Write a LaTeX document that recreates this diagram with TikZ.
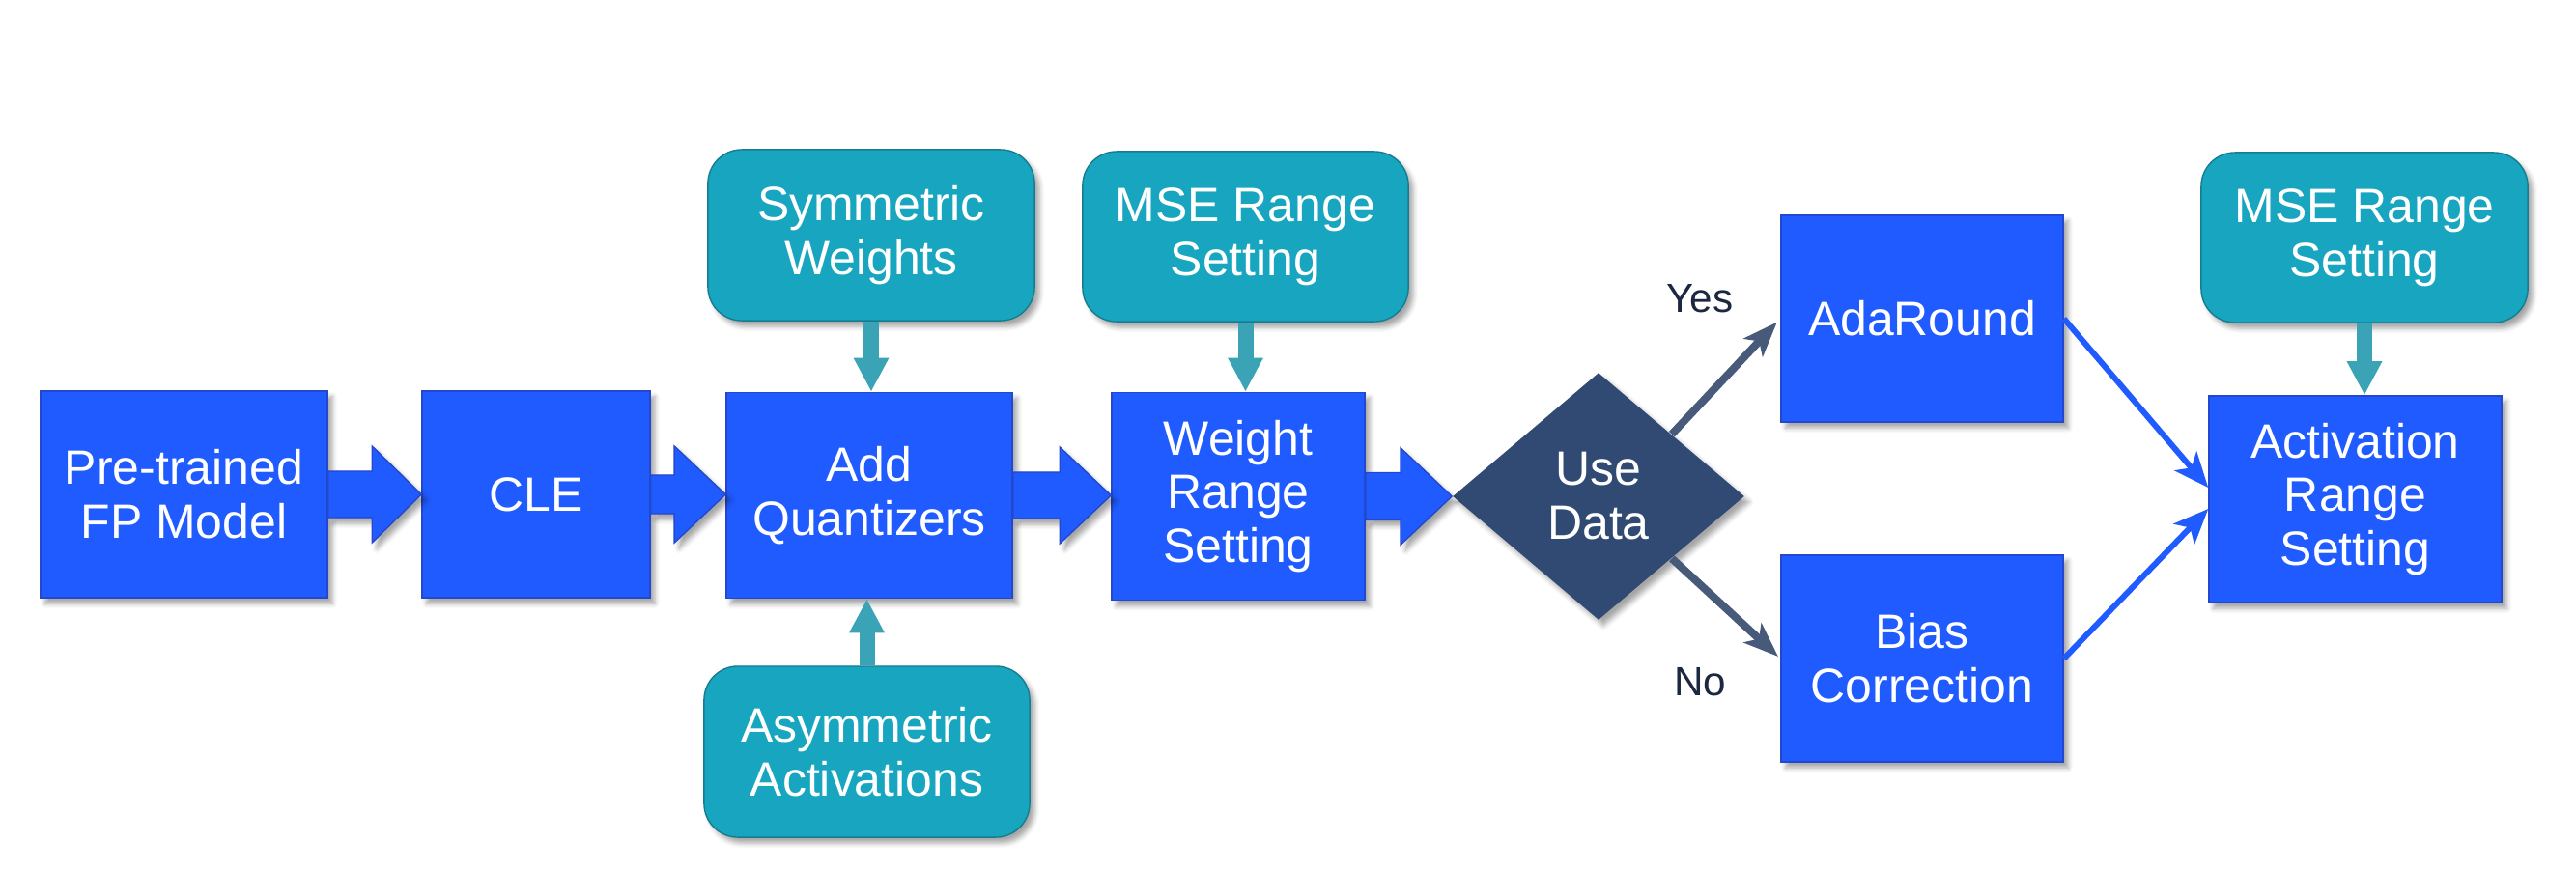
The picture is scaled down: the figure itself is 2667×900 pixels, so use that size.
\documentclass[tikz,border=0pt]{standalone}
\usepackage{fontspec}
\setmainfont{Liberation Sans}
\usetikzlibrary{shapes.geometric,arrows.meta,calc,shadows.blur}
\definecolor{boxblue}{RGB}{31,91,255}
\definecolor{boxedge}{RGB}{36,72,205}
\definecolor{tealbox}{RGB}{23,165,191}
\definecolor{tealedge}{RGB}{22,125,145}
\definecolor{tealarrow}{RGB}{58,164,182}
\definecolor{slate}{RGB}{48,74,115}
\definecolor{slatearrow}{RGB}{72,90,122}
\definecolor{labelnavy}{RGB}{28,40,64}
\tikzset{
  shd/.style={blur shadow={shadow xshift=0.05cm, shadow yshift=-0.06cm, shadow blur radius=0.05cm, shadow opacity=35}},
  mainfont/.style={font=\fontsize{14.2}{15.9}\selectfont},
  proc/.style={rectangle, draw=boxedge, line width=0.4pt, fill=boxblue, text=white, align=center, inner sep=0pt, mainfont, shd},
  optbox/.style={rectangle, rounded corners=0.35cm, draw=tealedge, line width=0.4pt, fill=tealbox, text=white, align=center, inner sep=0pt, mainfont, shd},
  decision/.style={diamond, fill=slate, text=white, align=center, inner sep=0pt, mainfont, shd},
  lbl/.style={text=labelnavy, font=\fontsize{12}{14}\selectfont},
  blockarr/.style={fill=boxblue, draw=boxedge, line width=0.4pt, shd},
  tealarr/.style={draw=tealarrow, line width=0.16cm, -{Triangle[width=0.34cm,length=0.35cm]}},
  slatearr/.style={draw=slatearrow, line width=0.08cm, -{Stealth[length=0.36cm,width=0.27cm,inset=0.09cm]}},
  bluearr/.style={draw=boxblue, line width=0.06cm, -{Stealth[length=0.36cm,width=0.3cm,inset=0.09cm]}}
}
\newcommand\blockarrow[5]{%
  \path[blockarr] let \p1=(#1.east), \p2=(#2.west) in
  (\x1,\y1+#3) -- (\x2-#5,\y1+#3) -- (\x2-#5,\y1+#4) -- (\x2,\y1) --
  (\x2-#5,\y1-#4) -- (\x2-#5,\y1-#3) -- (\x1,\y1-#3) -- cycle;}
\begin{document}
\begin{tikzpicture}[x=0.01cm,y=-0.01cm]
\useasboundingbox (0,0) rectangle (2667,900);
% main process boxes
\node[proc, minimum width=2.97cm, minimum height=2.14cm] (pre) at (190.5,512) {Pre-trained\\FP Model};
\node[proc, minimum width=2.36cm, minimum height=2.14cm] (cle) at (555,512) {CLE};
\node[proc, minimum width=2.96cm, minimum height=2.13cm] (addq) at (900,513) {Add\\Quantizers};
\node[proc, minimum width=2.62cm, minimum height=2.15cm] (wrs) at (1282,514) {Weight\\Range\\Setting};
\node[decision, minimum width=3.02cm, minimum height=2.56cm] (use) at (1655,514) {Use\\Data};
\node[proc, minimum width=2.92cm, minimum height=2.14cm] (ada) at (1990,330) {AdaRound};
\node[proc, minimum width=2.92cm, minimum height=2.14cm] (bias) at (1990,682) {Bias\\Correction};
\node[proc, minimum width=3.03cm, minimum height=2.14cm] (ars) at (2438.5,517) {Activation\\Range\\Setting};
% option boxes
\node[optbox, minimum width=3.38cm, minimum height=1.77cm] (sym) at (902,243.5) {Symmetric\\Weights};
\node[optbox, minimum width=3.37cm, minimum height=1.76cm] (mse1) at (1289.5,245) {MSE Range\\Setting};
\node[optbox, minimum width=3.37cm, minimum height=1.77cm] (asym) at (897.5,778.5) {Asymmetric\\Activations};
\node[optbox, minimum width=3.38cm, minimum height=1.76cm] (mse2) at (2448,246) {MSE Range\\Setting};
% block arrows
\blockarrow{pre}{cle}{0.24cm}{0.5cm}{0.51cm}
\blockarrow{cle}{addq}{0.2cm}{0.5cm}{0.53cm}
\blockarrow{addq}{wrs}{0.24cm}{0.5cm}{0.53cm}
\blockarrow{wrs}{use}{0.245cm}{0.5cm}{0.53cm}
% teal arrows
\draw[tealarr] (sym.south) -- (sym.south |- addq.north);
\draw[tealarr] (mse1.south) -- (mse1.south |- wrs.north);
\draw[tealarr] (asym.north) -- (asym.north |- addq.south);
\draw[tealarr] (mse2.south) -- (mse2.south |- ars.north);
% decision arrows
\draw[slatearr, shorten >=0.05cm] (use.north east) -- (ada.west);
\draw[slatearr, shorten >=0.03cm] (use.south east) -- (bias.west);
\node[lbl] (yes) at (1760,309) {Yes};
\node[lbl] (no) at (1760,706) {No};
% merge arrows
\draw[bluearr] (ada.east) -- ([yshift=0.12cm]ars.west);
\draw[bluearr] (bias.east) -- ([yshift=-0.1cm]ars.west);
\end{tikzpicture}
\end{document}
